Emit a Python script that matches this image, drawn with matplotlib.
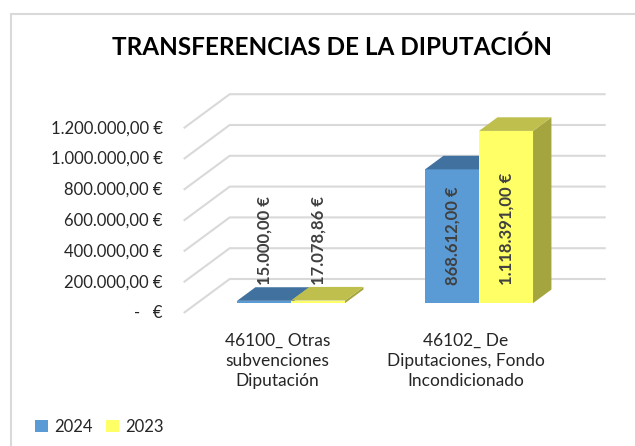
import matplotlib
matplotlib.use("Agg")
import matplotlib.pyplot as plt
from matplotlib.patches import Polygon, Rectangle

plt.rcParams["font.family"] = ["Lato", "DejaVu Sans"]

categories = ["46100_ Otras\nsubvenciones\nDiputación",
              "46102_ De\nDiputaciones, Fondo\nIncondicionado"]
series_names = ["2024", "2023"]
values_2024 = [15000.00, 868612.00]
values_2023 = [17078.86, 1118391.00]
label_2024 = ["15.000,00 €", "868.612,00 €"]
label_2023 = ["17.078,86 €", "1.118.391,00 €"]
y_ticks = [0, 200000, 400000, 600000, 800000, 1000000, 1200000]
y_tick_labels = ["-   €", "200.000,00 €", "400.000,00 €", "600.000,00 €",
                 "800.000,00 €", "1.000.000,00 €", "1.200.000,00 €"]

front_colors = ["#5B9BD5", "#FFFF66"]
top_colors = ["#41729F", "#BFBF4D"]
side_colors = ["#3B6790", "#A5A53F"]
text_color = "#262626"
grid_color = "#D9D9D9"

W, H = 635, 446
fig = plt.figure(figsize=(W / 100, H / 100), dpi=100)
ax = fig.add_axes([0, 0, 1, 1])

# pixel mapping: category spacing 188 px, 200k = 30.8 px, front zero line at y=313
px_per_cat = 188.0
val_per_px = 200000 / 30.8
x0_px = 183.7
ax.set_xlim(-0.5 - x0_px / px_per_cat, -0.5 + (W - x0_px) / px_per_cat)
ax.set_ylim(-(H - 313) * val_per_px, 313 * val_per_px)
ax.axis("off")

# oblique depth of the whole box
DX = 46 / px_per_cat
DY = 34 * val_per_px
d0, d1 = 0.29, 0.69
bw = 108 / px_per_cat / 2

# walls / gridlines
for v in y_ticks:
    ax.plot([-0.5, -0.5 + DX, 1.5 + DX], [v, v + DY, v + DY],
            color=grid_color, lw=1.5, zorder=1, solid_capstyle="butt")

# tick labels
for v, t in zip(y_ticks, y_tick_labels):
    ax.text(-0.5 + (163 - x0_px) / px_per_cat, v, t, ha="right", va="center",
            fontsize=12, color=text_color)

# bars
xs = list(range(len(categories)))
all_vals = [values_2024, values_2023]
all_labels = [label_2024, label_2023]
handles = []
for s, (vals, labs) in enumerate(zip(all_vals, all_labels)):
    left = [x - bw + s * bw + d0 * DX for x in xs]
    b = ax.bar(left, vals, width=bw, bottom=d0 * DY, align="edge",
               color=front_colors[s], zorder=3 + s * 2, label=series_names[s])
    handles.append(b)
    for l, v, lab in zip(left, vals, labs):
        top = [(l, v + d0 * DY), (l + bw, v + d0 * DY),
               (l + bw + (d1 - d0) * DX, v + d1 * DY), (l + (d1 - d0) * DX, v + d1 * DY)]
        side = [(l + bw, d0 * DY), (l + bw, v + d0 * DY),
                (l + bw + (d1 - d0) * DX, v + d1 * DY), (l + bw + (d1 - d0) * DX, d1 * DY)]
        ax.add_patch(Polygon(side, closed=True, color=side_colors[s], lw=0, zorder=2 + s * 2))
        ax.add_patch(Polygon(top, closed=True, color=top_colors[s], lw=0, zorder=3 + s * 2))
        ax.text(l + bw / 2, d0 * DY + 120000, lab, rotation=90, ha="center", va="bottom",
                fontsize=12, fontweight="bold", color="#404040", zorder=10)

# category labels
for x, c in zip(xs, categories):
    ax.text(x, -130000, c, ha="center", va="top", fontsize=12.5,
            color=text_color, linespacing=1.32)

# title
fig.text(332 / W, 1 - 47 / H, "TRANSFERENCIAS DE LA DIPUTACIÓN", ha="center", va="center",
         fontsize=17.5, fontweight="bold", color="black")

# outer chart frame
fig.patches.append(Rectangle((11 / W, -0.1), 1.2, 1 - 14 / H + 0.1, transform=fig.transFigure,
                             fill=False, edgecolor=grid_color, lw=1.5))

fig.legend(handles=handles, loc="center left", bbox_to_anchor=(35 / W, 1 - 427 / H),
           ncol=2, frameon=False, fontsize=12, handlelength=0.75, handleheight=0.75,
           handletextpad=0.4, columnspacing=0.8, borderpad=0, borderaxespad=0,
           labelcolor=text_color)

fig.savefig("out.png", dpi=100)
